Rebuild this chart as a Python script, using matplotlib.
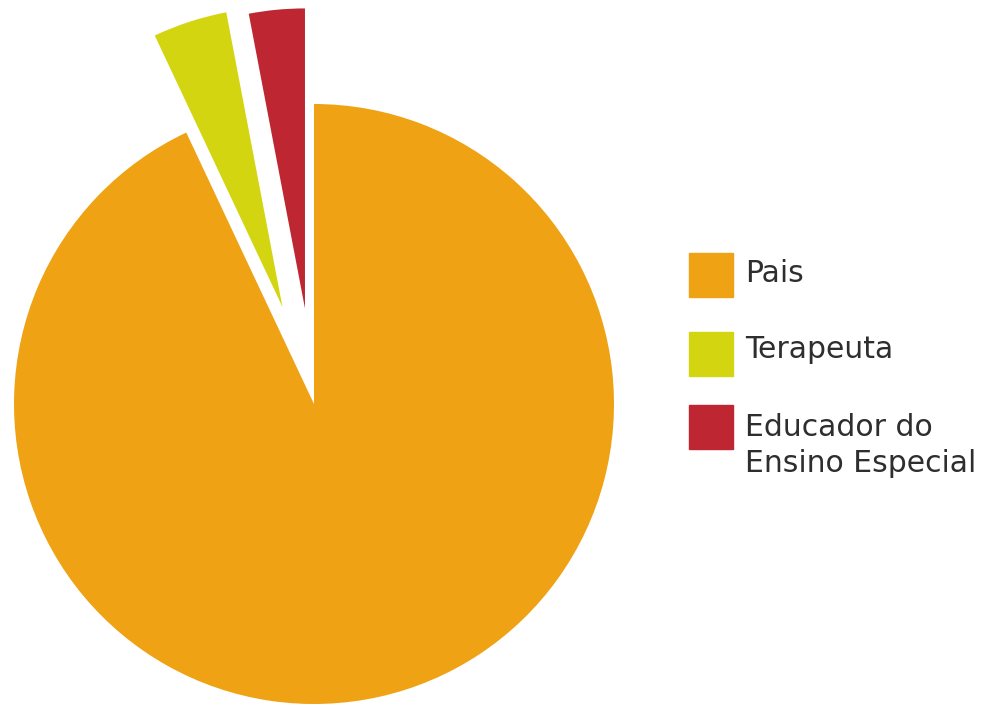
import matplotlib.pyplot as plt
from matplotlib.patches import Rectangle

labels = ["Pais", "Terapeuta", "Educador do\nEnsino Especial"]
values = [93, 4, 3]
colors = ["#EFA213", "#D4D511", "#BE2631"]
explode = [0, 0.34, 0.32]

fig = plt.figure(figsize=(9.95, 7.08), dpi=100)
ax = fig.add_axes([0, 0, 1, 1])
ax.pie(values, colors=colors, explode=explode, startangle=90,
       counterclock=False, radius=1.0)
# center at (314, 404) px, radius 300 px
ax.set_xlim(-314 / 300, (995 - 314) / 300)
ax.set_ylim(-304 / 300, (708 - 304) / 300)
ax.set_aspect("auto")
ax.axis("off")

# legend, drawn by hand (baseline of the last line of each label)
box_bottoms = [0.5805, 0.4689, 0.3658]
baselines = [1 - 282 / 708, 1 - 358 / 708, 1 - 472 / 708]
for lab, col, yb, yt in zip(labels, colors, box_bottoms, baselines):
    fig.patches.append(Rectangle((0.6925, yb), 44 / 995, 44 / 708,
                                 transform=fig.transFigure, color=col))
    fig.text(0.7487, yt, lab, fontsize=21.5, family="DejaVu Sans",
             color="#2e2e2e", va="baseline", ha="left", linespacing=1.32)

plt.savefig("out.png", dpi=100)
